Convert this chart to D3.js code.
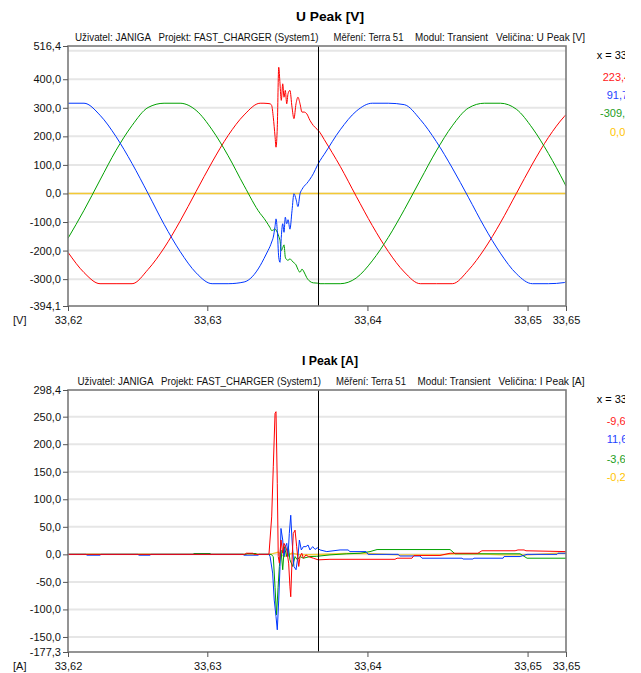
<!DOCTYPE html>
<html><head><meta charset="utf-8">
<script src="https://cdn.jsdelivr.net/npm/d3@7/dist/d3.min.js"></script>
<style>
body{margin:0;background:#fff}
svg{display:block}
text{font-family:"Liberation Sans",Arial,sans-serif}
</style></head>
<body><svg id="c" width="641" height="673"></svg>
<script>
// ---------- data ----------
const xDomain=[33.6213,33.6524];
const xTickValues=[33.6213,33.63,33.64,33.65,33.6524];
const uTicks=[-394.1,-300,-200,-100,0,100,200,300,400,516.4];
const uGrid=[-300,-200,-100,0,100,200,300,400,500];
const iTicks=[-177.3,-150,-100,-50,0,50,100,150,200,250,298.4];
const iGrid=[-150,-100,-50,0,50,100,150,200,250];
const cursorTime=33.63691;
const headerParts=["Uživatel: JANIGA","Projekt: FAST_CHARGER (System1)","Měření: Terra 51","Modul: Transient"];
const uTitle="U Peak [V]", iTitle="I Peak [A]";
const uLegend=["x = 33,63691","223,45","91,75","-309,12","0,00"];
const iLegend=["x = 33,63691","-9,63","11,62","-3,61","-0,21"];

// U Peak: base samples
const uBaseTime=[33.6213,33.6223,33.6233,33.6243,33.6253,33.6263,33.6273,33.6283,33.6293,33.6303,33.6313,33.6323,33.6333,33.6343,33.6353,33.6363,33.6373,33.6383,33.6393,33.6403,33.6413,33.6423,33.6433,33.6443,33.6453,33.6463,33.6473,33.6483,33.6493,33.6503,33.6513,33.6523,33.6524];
const uRedBase=[-206,-277,-316,-316,-316,-266,-191,-97,7,110,203,275,316,null,null,null,189,95,-10,-112,-203,-275,-316,-316,-316,-269,-195,-103,0,103,196,270,276];
const uBlueBase=[316,316,274,199,105,0,-108,-203,-278,-316,-316,-310,-253,null,null,null,137,223,288,316,316,311,259,182,89,-13,-117,-209,-281,-316,-316,-312,-308];
const uGreenBase=[-157,-59,47,151,238,301,316,316,291,223,132,27,-70,null,null,null,-316,-316,-296,-236,-154,-57,47,149,237,299,316,316,295,229,140,37,26];
// U Peak: transient samples
const uTrTime=[33.63354,33.63379,33.63392,33.63402,33.63412,33.63423,33.63429,33.63437,33.63446,33.63454,33.63462,33.63471,33.63479,33.63487,33.63496,33.63504,33.63516,33.63529,33.63541,33.63554,33.63566,33.63579,33.63591,33.63604,33.63621,33.63641,33.63662,33.63687,33.63704];
const uRedTr=[316,315,314,308,267,200,162,232,442,384,326,384,337,361,314,349,361,302,262,314,337,314,285,285,279,256,238,224,213];
const uBlueTr=[-228,-200,-185,-170,-153,-115,-89,-130,-223,-241,-153,-106,-136,-83,-106,-92,-125,-60,-1,-20,-46,-1,14,25,35,50,69,98,115];
const uGreenTr=[-87,-108,-120,-130,-128,-124,-128,-136,-150,-165,-200,-190,-180,-223,-232,-234,-229,-236,-243,-250,-266,-276,-265,-275,-295,-308,-313,-314,-316];
const uYellowTime=[33.6213,33.6524];
const uYellow=[0,0];

// I Peak
const iYellowTime=[33.6213,33.63392,33.63442,33.63479,33.63529,33.63579,33.63704,33.63860,33.64004,33.64191,33.64453,33.64547,33.64684,33.64847,33.64997,33.65190,33.6524];
const iYellow=[0,0,4,-4,2,-1,-0.2,1.5,1.5,-1,-1,1,1,-1,-1,2,2];
const iRedTime=[33.6213,33.63235,33.63242,33.63285,33.63292,33.63385,33.63402,33.63412,33.63423,33.63429,33.63437,33.63443,33.63450,33.63460,33.63471,33.63479,33.63496,33.63508,33.63516,33.63521,33.63529,33.63537,33.63548,33.63558,33.63571,33.63579,33.63590,33.63600,33.63616,33.63631,33.63662,33.63693,33.63766,33.64172,33.64185,33.64278,33.64291,33.64453,33.64516,33.64690,33.64715,33.64922,33.64940,33.64978,33.64990,33.6524];
const iRed=[0,0,2,2,0,0,68,159,256,259,129,-4,-16,26,2,20,8,-16,-59,-77,-10,38,44,14,-22,-4,2,-7,-1,-4,-7,-10,-9,-9,-7,-7,-2,-2,2,2,6.5,6.5,8,8,6.5,5];
const iBlueTime=[33.6213,33.62242,33.62249,33.62330,33.62336,33.62567,33.62573,33.62642,33.62648,33.63223,33.63229,33.63317,33.63323,33.63385,33.63392,33.63408,33.63418,33.63429,33.63437,33.63446,33.63454,33.63460,33.63471,33.63479,33.63487,33.63496,33.63504,33.63512,33.63521,33.63529,33.63541,33.63554,33.63566,33.63575,33.63587,33.63600,33.63616,33.63629,33.63641,33.63658,33.63673,33.63687,33.63704,33.63746,33.63829,33.63879,33.63891,33.63991,33.64004,33.64191,33.64203,33.64328,33.64341,33.64591,33.64597,33.64659,33.64665,33.64847,33.64853,33.64953,33.64997,33.65184,33.65190,33.6524];
const iBlue=[0,0,-1.5,-1.5,0,0,-1.5,-1.5,0,0,-1.5,-1.5,0,0,-4,-34,-83,-113,-137,-83,-22,47,26,-4,14,20,-4,38,71,26,-22,-28,-4,26,8,14,14,17,8,14,9,12,8,5,8,8,5,5,0,0,-3,-3,-7,-7,-8.5,-8.5,-7,-7,-4,-4,0,0,2,2];
const iGreenTime=[33.6213,33.62911,33.62917,33.63017,33.63023,33.63242,33.63248,33.63304,33.63310,33.63398,33.63412,33.63423,33.63432,33.63442,33.63450,33.63460,33.63471,33.63481,33.63496,33.63506,33.63516,33.63533,33.63548,33.63562,33.63579,33.63600,33.63641,33.63683,33.63766,33.63871,33.63954,33.64016,33.64060,33.64516,33.64547,33.64953,33.64997,33.6524];
const iGreen=[0,0,1.5,1.5,0,0,1.5,1.5,0,0,-4,-60,-110,-60,-22,8,-28,14,-4,14,-10,-22,-4,-10,-4,-7,-4,-3.6,-1,1,2,5,8.7,8.7,1,1,-7,-7];

// ---------- styles ----------
const C={red:'#ff0000',blue:'#0036ff',green:'#00a000',yellow:'#f4c934'};
const legendColors=['#000','#ff1a1a','#1f45ff','#1d9e1d','#ffc400'];

function pairs(T,V){return T.map((t,i)=>[t,V[i]]).filter(p=>p[1]!=null);}
function merge(bT,bV,tT,tV){
  const a=pairs(bT,bV).filter(p=>p[0]<tT[0]||p[0]>tT[tT.length-1]);
  return a.concat(pairs(tT,tV)).sort((p,q)=>p[0]-q[0]);
}

const panels=[
 {title:uTitle,unit:'[V]',top:46,bottom:306,yDomain:[uTicks[0],uTicks[uTicks.length-1]],ticks:uTicks,grid:uGrid,
  titleY:20.5,titleLen:68,headerY:40.7,headerX:[75,158.5,333.5,415,496],headerLen:[76,160,70,73,89],
  legend:uLegend,legendX:[596.7,602.7,606.7,600,610],legendY:[59.3,80.7,98.5,117.3,136],
  curve:d3.curveMonotoneX,
  series:[
   {d:pairs(uYellowTime,uYellow),c:C.yellow,w:1.6},
   {d:merge(uBaseTime,uRedBase,uTrTime,uRedTr),c:C.red,w:1},
   {d:merge(uBaseTime,uGreenBase,uTrTime,uGreenTr),c:C.green,w:1},
   {d:merge(uBaseTime,uBlueBase,uTrTime,uBlueTr),c:C.blue,w:1}
  ]},
 {title:iTitle,unit:'[A]',top:390,bottom:652,yDomain:[iTicks[0],iTicks[iTicks.length-1]],ticks:iTicks,grid:iGrid,
  titleY:365,titleLen:56,headerY:384.7,headerX:[77.5,161,336,417.5,498.5],headerLen:[76,160,70,73,86],
  legend:iLegend,legendX:[596.7,606.7,606.7,606.7,606.7],legendY:[403.3,425,443.3,462.7,480.7],
  curve:d3.curveLinear,
  series:[
   {d:pairs(iYellowTime,iYellow),c:C.yellow,w:1.4},
   {d:pairs(iGreenTime,iGreen),c:C.green,w:1},
   {d:pairs(iBlueTime,iBlue),c:C.blue,w:1},
   {d:pairs(iRedTime,iRed),c:C.red,w:1}
  ]}
];

const svg=d3.select('#c');
const X0=68,X1=566;
const x=d3.scaleLinear().domain(xDomain).range([X0,X1]);
const fmt1=d=>d.toFixed(1).replace('.',',');
const fmt2=d=>d.toFixed(2).replace('.',',');

const defs=svg.append('defs');
defs.append('clipPath').attr('id','legclip').append('rect').attr('x',585).attr('y',0).attr('width',40).attr('height',673);

panels.forEach((p,pi)=>{
  const y=d3.scaleLinear().domain(p.yDomain).range([p.bottom,p.top]);
  const g=svg.append('g');
  defs.append('clipPath').attr('id','pc'+pi).append('rect')
    .attr('x',X0).attr('y',p.top).attr('width',X1-X0).attr('height',p.bottom-p.top);
  // title
  g.append('text').attr('x',330).attr('y',p.titleY).attr('text-anchor','middle')
    .attr('font-size',13).attr('font-weight','bold').attr('textLength',p.titleLen)
    .attr('lengthAdjust','spacingAndGlyphs').text(p.title);
  // header
  const hp=headerParts.concat(['Veličina: '+p.title]);
  hp.forEach((s,i)=>g.append('text').attr('x',p.headerX[i]).attr('y',p.headerY)
    .attr('font-size',11).attr('textLength',p.headerLen[i]).attr('lengthAdjust','spacingAndGlyphs')
    .attr('fill','#111').text(s));
  // grid
  g.append('g').selectAll('line').data(p.grid).join('line')
    .attr('x1',X0).attr('x2',X1).attr('y1',d=>y(d)).attr('y2',d=>y(d))
    .attr('stroke','#e6e6e6').attr('stroke-width',2);
  // series
  const line=d3.line().x(d=>x(d[0])).y(d=>y(d[1])).curve(p.curve);
  const sg=g.append('g').attr('clip-path','url(#pc'+pi+')');
  p.series.forEach(s=>sg.append('path').datum(s.d).attr('d',line)
    .attr('fill','none').attr('stroke',s.c).attr('stroke-width',s.w).attr('stroke-linejoin','round'));
  // cursor
  g.append('line').attr('x1',Math.round(x(cursorTime))+0.5).attr('x2',Math.round(x(cursorTime))+0.5)
    .attr('y1',p.top).attr('y2',p.bottom).attr('stroke','#000').attr('stroke-width',1);
  // frame
  g.append('rect').attr('x',X0).attr('y',p.top).attr('width',X1-X0).attr('height',p.bottom-p.top)
    .attr('fill','none').attr('stroke','#7a7a7a').attr('stroke-width',1.6);
  // axes
  const ya=g.append('g').attr('transform',`translate(${X0},0)`)
    .call(d3.axisLeft(y).tickValues(p.ticks).tickFormat(fmt1).tickSize(5).tickPadding(2));
  const xa=g.append('g').attr('transform',`translate(0,${p.bottom})`)
    .call(d3.axisBottom(x).tickValues(xTickValues).tickFormat(fmt2).tickSize(5).tickPadding(5));
  [ya,xa].forEach(a=>{
    a.select('.domain').remove();
    a.selectAll('line').attr('stroke','#555');
    a.selectAll('text').attr('font-size',11).attr('fill','#111').attr('font-family','"Liberation Sans",Arial,sans-serif');
  });
  // unit
  g.append('text').attr('x',13).attr('y',p.bottom+18).attr('font-size',11).attr('fill','#111').text(p.unit);
  // legend (clipped at the right, as in the reference)
  const lg=g.append('g').attr('clip-path','url(#legclip)');
  p.legend.forEach((s,i)=>lg.append('text').attr('x',p.legendX[i]).attr('y',p.legendY[i])
    .attr('font-size',11).attr('fill',legendColors[i]).text(s));
});
</script>
</body></html>
